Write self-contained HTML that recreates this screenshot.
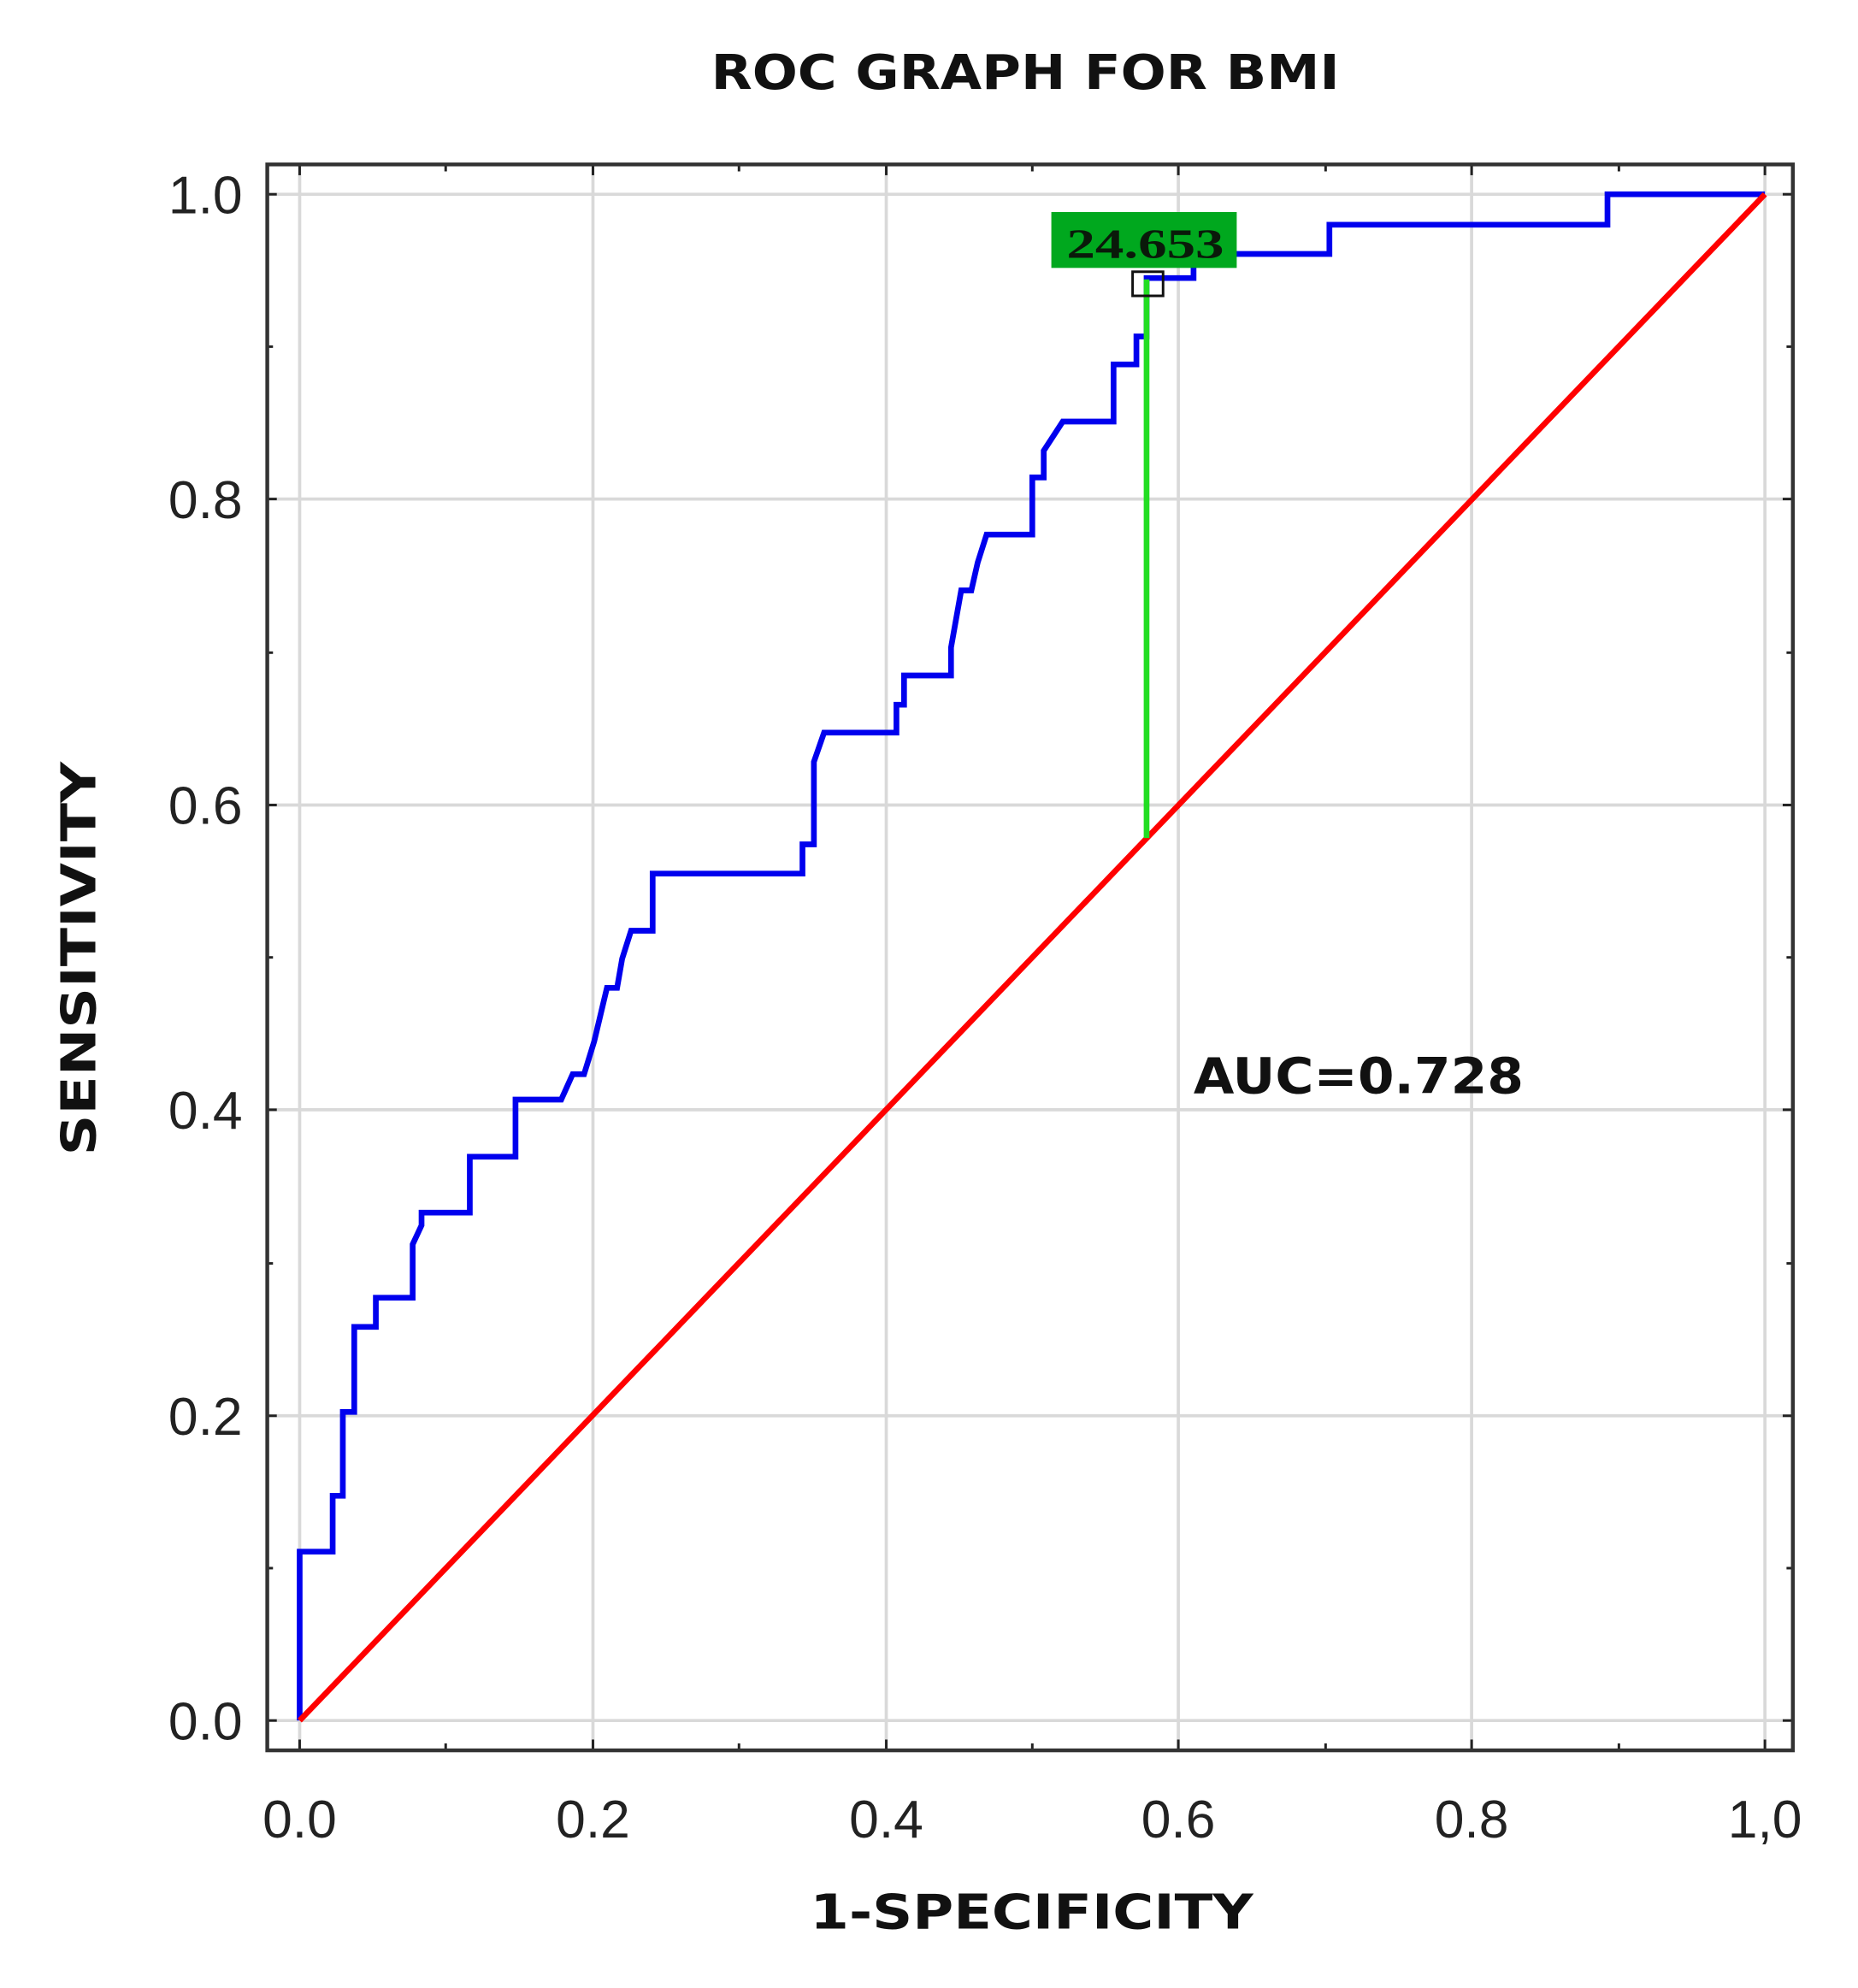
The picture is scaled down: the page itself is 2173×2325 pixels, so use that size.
<!DOCTYPE html>
<html><head><meta charset="utf-8"><style>html,body{margin:0;padding:0;background:#fff}svg{display:block}</style></head>
<body>
<svg width="2173" height="2325" viewBox="0 0 2173 2325" xmlns="http://www.w3.org/2000/svg">
<g transform="scale(1.485)">
<rect x="0" y="0" width="1464" height="1566" fill="#fff"/>
<g stroke="#d9d9d9" stroke-width="2.5">
<line x1="236" y1="130" x2="236" y2="1378"/><line x1="467" y1="130" x2="467" y2="1378"/><line x1="698" y1="130" x2="698" y2="1378"/><line x1="928" y1="130" x2="928" y2="1378"/><line x1="1159" y1="130" x2="1159" y2="1378"/><line x1="1390" y1="130" x2="1390" y2="1378"/>
<line x1="210" y1="153" x2="1412" y2="153"/><line x1="210" y1="393" x2="1412" y2="393"/><line x1="210" y1="634" x2="1412" y2="634"/><line x1="210" y1="874" x2="1412" y2="874"/><line x1="210" y1="1115" x2="1412" y2="1115"/><line x1="210" y1="1355" x2="1412" y2="1355"/>
</g>
<g stroke="#222" stroke-width="2">
<line x1="236" y1="1378" x2="236" y2="1370"/><line x1="351" y1="1378" x2="351" y2="1373"/><line x1="467" y1="1378" x2="467" y2="1370"/><line x1="582" y1="1378" x2="582" y2="1373"/><line x1="698" y1="1378" x2="698" y2="1370"/><line x1="813" y1="1378" x2="813" y2="1373"/><line x1="928" y1="1378" x2="928" y2="1370"/><line x1="1044" y1="1378" x2="1044" y2="1373"/><line x1="1159" y1="1378" x2="1159" y2="1370"/><line x1="1275" y1="1378" x2="1275" y2="1373"/><line x1="1390" y1="1378" x2="1390" y2="1370"/>
<line x1="236" y1="130" x2="236" y2="138"/><line x1="351" y1="130" x2="351" y2="135"/><line x1="467" y1="130" x2="467" y2="138"/><line x1="582" y1="130" x2="582" y2="135"/><line x1="698" y1="130" x2="698" y2="138"/><line x1="813" y1="130" x2="813" y2="135"/><line x1="928" y1="130" x2="928" y2="138"/><line x1="1044" y1="130" x2="1044" y2="135"/><line x1="1159" y1="130" x2="1159" y2="138"/><line x1="1275" y1="130" x2="1275" y2="135"/><line x1="1390" y1="130" x2="1390" y2="138"/>
<line x1="210" y1="153" x2="218" y2="153"/><line x1="210" y1="273" x2="215" y2="273"/><line x1="210" y1="393" x2="218" y2="393"/><line x1="210" y1="514" x2="215" y2="514"/><line x1="210" y1="634" x2="218" y2="634"/><line x1="210" y1="754" x2="215" y2="754"/><line x1="210" y1="874" x2="218" y2="874"/><line x1="210" y1="995" x2="215" y2="995"/><line x1="210" y1="1115" x2="218" y2="1115"/><line x1="210" y1="1235" x2="215" y2="1235"/><line x1="210" y1="1355" x2="218" y2="1355"/>
<line x1="1412" y1="153" x2="1404" y2="153"/><line x1="1412" y1="273" x2="1407" y2="273"/><line x1="1412" y1="393" x2="1404" y2="393"/><line x1="1412" y1="514" x2="1407" y2="514"/><line x1="1412" y1="634" x2="1404" y2="634"/><line x1="1412" y1="754" x2="1407" y2="754"/><line x1="1412" y1="874" x2="1404" y2="874"/><line x1="1412" y1="995" x2="1407" y2="995"/><line x1="1412" y1="1115" x2="1404" y2="1115"/><line x1="1412" y1="1235" x2="1407" y2="1235"/><line x1="1412" y1="1355" x2="1404" y2="1355"/>
</g>
<rect x="210.5" y="129.5" width="1201.5" height="1249" fill="none" stroke="#333" stroke-width="3"/>
<polyline fill="none" stroke="#0000ee" stroke-width="4.5" stroke-linejoin="miter" points="236,1355 236,1222 262,1222 262,1178 270,1178 270,1112 279,1112 279,1045 296,1045 296,1022 325,1022 325,980 332,965 332,955 370,955 370,911 406,911 406,866 442,866 451,846 460,846 468,820 478,778 486,778 490,755 497,733 514,733 514,688 632,688 632,665 641,665 641,600 649,577 706,577 706,555 712,555 712,532 749,532 749,510 757,465 765,465 770,443 777,421 813,421 813,376 822,376 822,355 837,332 877,332 877,287 895,287 895,265 903,265 903,219 940,219 940,200 1047,200 1047,177 1266,177 1266,153 1390,153"/>
<line x1="236" y1="1355" x2="1390" y2="153" stroke="#ff0000" stroke-width="4.5"/>
<line x1="903" y1="220" x2="903" y2="660" stroke="#22dd22" stroke-width="4.5"/>
<rect x="892" y="214" width="24" height="19" fill="none" stroke="#111" stroke-width="2"/>
<rect x="828" y="167" width="146" height="44" fill="#00a81e"/>
<text x="840" y="203" font-family="Liberation Serif, serif" font-weight="bold" font-size="33" fill="#0a1a0a" textLength="124" lengthAdjust="spacingAndGlyphs">24.653</text>
<g font-family="Liberation Sans, sans-serif" font-size="42" fill="#222" text-anchor="end">
<text x="191" y="168">1.0</text><text x="191" y="408">0.8</text><text x="191" y="649">0.6</text><text x="191" y="889">0.4</text><text x="191" y="1130">0.2</text><text x="191" y="1370">0.0</text>
</g>
<g font-family="Liberation Sans, sans-serif" font-size="42" fill="#222" text-anchor="middle">
<text x="236" y="1447">0.0</text><text x="467" y="1447">0.2</text><text x="698" y="1447">0.4</text><text x="928" y="1447">0.6</text><text x="1159" y="1447">0.8</text><text x="1390" y="1447">1,0</text>
</g>
<g font-family="DejaVu Sans, sans-serif" font-weight="bold" fill="#111">
<text x="560" y="70" font-size="38" textLength="495" lengthAdjust="spacingAndGlyphs">ROC GRAPH FOR BMI</text>
<text x="638" y="1519" font-size="38" textLength="349" lengthAdjust="spacingAndGlyphs">1-SPECIFICITY</text>
<text transform="translate(75,910) rotate(-90)" font-size="38" textLength="310" lengthAdjust="spacingAndGlyphs">SENSITIVITY</text>
<text x="940" y="861" font-size="39" textLength="260" lengthAdjust="spacingAndGlyphs">AUC=0.728</text>
</g>
</g>
</svg>
</body></html>
